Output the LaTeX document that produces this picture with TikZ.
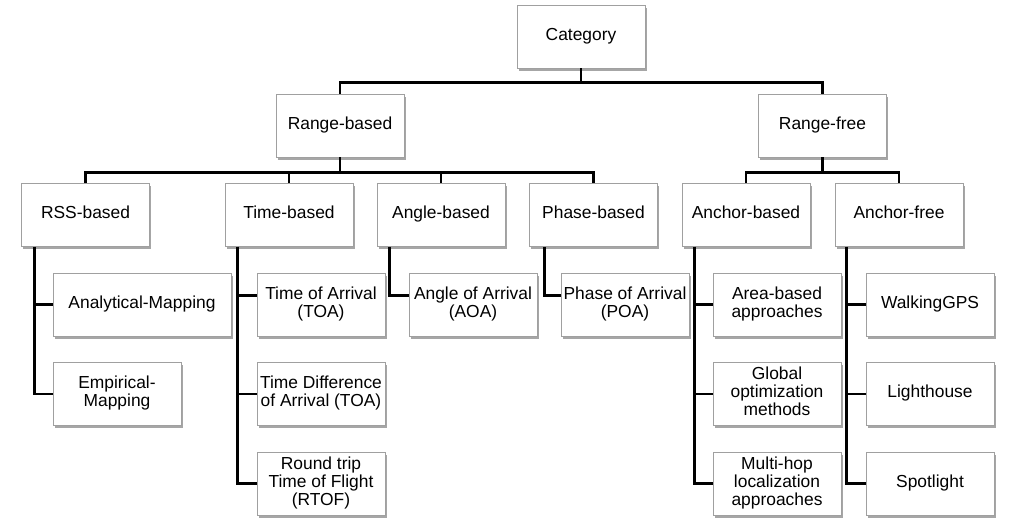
\documentclass[tikz,border=0pt]{standalone}
\usepackage{fontspec}
\setmainfont{Liberation Sans}
\usetikzlibrary{calc,shadows}
\definecolor{boxgray}{RGB}{160,160,160}

\begin{document}
\begin{tikzpicture}[x=1pt, y=-1pt,
      box/.style={draw=boxgray, fill=white, line width=0.6pt, minimum width=128pt, minimum height=63pt, align=center, inner sep=1pt, font=\fontsize{17.4}{18}\selectfont, execute at begin node=\strut, execute at end node=\strut, drop shadow={shadow xshift=1.5pt, shadow yshift=-2.5pt, fill=black, opacity=0.35}},
      link/.style={line width=2.8pt, black}
    ]
      \useasboundingbox (0,0) rectangle (1022,528);

      \node[box] (cat) at (581,36.5) {Category};
      \node[box] (rb) at (340,125.5) {Range-based};
      \node[box] (rf) at (822.5,125.5) {Range-free};

      \node[box] (rss) at (85.5,215) {RSS-based};
      \node[box] (time) at (289,215) {Time-based};
      \node[box] (angle) at (441,215) {Angle-based};
      \node[box] (phase) at (593.5,215) {Phase-based};
      \node[box] (anb) at (746,215) {Anchor-based};
      \node[box] (anf) at (899,215) {Anchor-free};

      \node[box, minimum width=178pt] (analytical) at (142,304.5) {Analytical-Mapping};
      \node[box] (empirical) at (117,394) {Empirical-\\Mapping};
      \node[box] (toa) at (321,304.5) {Time of Arrival\\(TOA)};
      \node[box] (tdoa) at (321,394) {Time Difference\\of Arrival (TOA)};
      \node[box] (rtof) at (321,483.5) {Round trip\\Time of Flight\\(RTOF)};
      \node[box] (aoa) at (473,304.5) {Angle of Arrival\\(AOA)};
      \node[box] (poa) at (625,304.5) {Phase of Arrival\\(POA)};
      \node[box] (area) at (777,304.5) {Area-based\\approaches};
      \node[box] (glob) at (777,394) {Global\\optimization\\methods};
      \node[box] (multi) at (777,483.5) {Multi-hop\\localization\\approaches};
      \node[box] (walk) at (930,304.5) {WalkingGPS};
      \node[box] (light) at (930,394) {Lighthouse};
      \node[box] (spot) at (930,483.5) {Spotlight};

      \draw[link] (cat.south) -- ++(0,14) -| (rb.north);
      \draw[link] (cat.south) -- ++(0,14) -| (rf.north);
      \foreach \n in {rss,time,angle,phase}
        \draw[link] (rb.south) -- ++(0,15) -| (\n.north);
      \foreach \n in {anb,anf}
        \draw[link] (rf.south) -- ++(0,15) -| (\n.north);

      \coordinate (rsstrunk) at ([xshift=13pt]rss.south west);
      \coordinate (timetrunk) at ([xshift=13pt]time.south west);
      \coordinate (angletrunk) at ([xshift=13pt]angle.south west);
      \coordinate (phasetrunk) at ([xshift=15pt]phase.south west);
      \coordinate (anbtrunk) at ([xshift=13pt]anb.south west);
      \coordinate (anftrunk) at ([xshift=12pt]anf.south west);

      \draw[link] (rsstrunk) |- (analytical.west);
      \draw[link] (rsstrunk) |- (empirical.west);
      \draw[link] (timetrunk) |- ([yshift=9pt]toa.west);
      \draw[link] (timetrunk) |- (tdoa.west);
      \draw[link] (timetrunk) |- (rtof.west);
      \draw[link] (angletrunk) |- ([yshift=9pt]aoa.west);
      \draw[link] (phasetrunk) |- ([yshift=9pt]poa.west);
      \foreach \n in {area,glob,multi}
        \draw[link] (anbtrunk) |- (\n.west);
      \foreach \n in {walk,light,spot}
        \draw[link] (anftrunk) |- (\n.west);
    \end{tikzpicture}
\end{document}
